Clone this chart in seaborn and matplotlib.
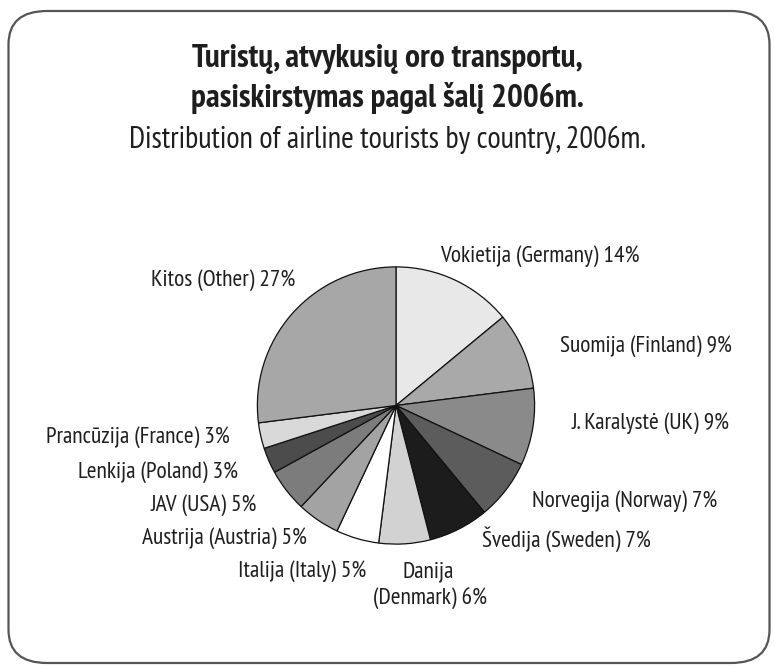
import matplotlib
matplotlib.use("Agg")
import matplotlib.pyplot as plt
from matplotlib.patches import FancyBboxPatch
import seaborn as sns

sns.set_theme(style="white")
plt.rcParams['font.family'] = ['PT Sans Narrow', 'DejaVu Sans']

# data, clockwise from 12 o'clock
countries = ["Vokietija (Germany)", "Suomija (Finland)", "J. Karalystė (UK)",
             "Norvegija (Norway)", "Švedija (Sweden)", "Danija\n(Denmark)",
             "Italija (Italy)", "Austrija (Austria)", "JAV (USA)",
             "Lenkija (Poland)", "Prancūzija (France)", "Kitos (Other)"]
shares = [14, 9, 9, 7, 7, 6, 5, 5, 5, 3, 3, 27]
greys = ["#e8e8e8", "#a9a9a9", "#8a8a8a", "#5c5c5c", "#1c1c1c", "#d2d2d2",
         "#ffffff", "#a3a3a3", "#7c7c7c", "#4c4c4c", "#d9d9d9", "#a7a7a7"]

title_lt = ["Turistų, atvykusių oro transportu,", "pasiskirstymas pagal šalį 2006m."]
title_en = "Distribution of airline tourists by country, 2006m."

# label anchor points in figure pixels (x, baseline y from top) and alignment
label_pos = [(440, 262, "left"), (560, 352, "left"), (572, 429, "left"),
             (532, 507, "left"), (482, 547, "left"), (428, 577, "center"),
             (366, 577, "right"), (307, 544, "right"), (257, 511, "right"),
             (238, 478, "right"), (230, 443, "right"), (295, 286, "right")]

W, H = 774, 666
fig = plt.figure(figsize=(W / 100, H / 100), dpi=100)

# rounded frame
frame = FancyBboxPatch((8.5 / W, 3 / H), 761 / W, 652 / H,
                       boxstyle="round,pad=0,rounding_size=0.05",
                       transform=fig.transFigure, fill=False,
                       edgecolor="#555555", linewidth=1.6)
fig.patches.append(frame)

cx, cy, r = 396, 405.5, 140
ax = fig.add_axes([(cx - r) / W, (H - cy - r) / H, 2 * r / W, 2 * r / H])
ax.pie(shares, colors=greys, startangle=90, counterclock=False,
       wedgeprops=dict(edgecolor="#111111", linewidth=0.9))
ax.set_xlim(-1.01, 1.01)
ax.set_ylim(-1.01, 1.01)
ax.axis("off")

fs = 16.8
ink = "#1e1e1e"
for name, val, (x, y, ha) in zip(countries, shares, label_pos):
    if "\n" in name:
        top, bottom = name.split("\n")
        fig.text(x / W, 1 - y / H, top, ha="center", va="baseline", fontsize=fs, color=ink)
        fig.text((x + 2) / W, 1 - (y + 28) / H, f"{bottom} {val}%", ha="center", va="baseline",
                 fontsize=fs, color=ink)
    else:
        fig.text(x / W, 1 - y / H, f"{name} {val}%", ha=ha, va="baseline", fontsize=fs, color=ink)

fig.text(0.5, 1 - 67 / H, title_lt[0], ha="center", va="baseline", fontsize=24,
         fontweight="bold", color=ink)
fig.text(0.5, 1 - 107 / H, title_lt[1], ha="center", va="baseline", fontsize=24,
         fontweight="bold", color=ink)
fig.text(0.5, 1 - 148 / H, title_en, ha="center", va="baseline", fontsize=22, color=ink)

fig.savefig("out.png", dpi=100)
